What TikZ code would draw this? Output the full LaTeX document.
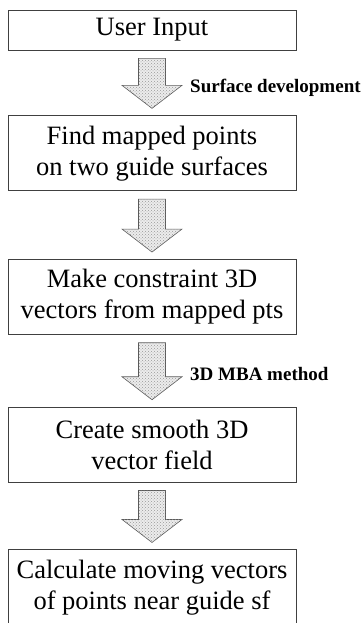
\documentclass[tikz,border=0pt]{standalone}
\usepackage{fontspec}
\setmainfont{Liberation Serif}
\usetikzlibrary{positioning,calc,patterns}

\tikzset{
  stepbox/.style={draw=black!75, line width=0.7pt, minimum width=288pt, minimum height=75pt,
    align=center, inner sep=2pt, font=\fontsize{26.5}{31}\selectfont},
  arrowfill/.style={draw=black!65, line width=0.6pt, fill=gray!15,
    postaction={pattern=crosshatch dots, pattern color=gray!80}},
  note/.style={font=\bfseries\fontsize{19}{22}\selectfont, inner sep=0pt, anchor=west}
}

% block arrow from the bottom of #1 to the top of #2
\newcommand{\blockarrow}[2]{%
  \draw[arrowfill] let \p1=($(#1.south)+(0,-8pt)$), \p2=($(#2.north)+(0,7pt)$) in
    (\x1-13.5pt,\y1) -- (\x1+13.5pt,\y1) -- (\x1+13.5pt,\y2+23pt) -- (\x1+30pt,\y2+23pt)
    -- (\x1,\y2) -- (\x1-30pt,\y2+23pt) -- (\x1-13.5pt,\y2+23pt) -- cycle;
}

\begin{document}
\begin{tikzpicture}
  \useasboundingbox (0,0) rectangle (363pt,-623pt);

  \node[stepbox, minimum height=40pt] (input) at (152pt,-30pt) {User Input};
  \node[stepbox, below=65pt of input] (mapped) {Find mapped points\\on two guide surfaces};
  \node[stepbox, below=68pt of mapped] (constr) {Make constraint 3D\\vectors from mapped pts};
  \node[stepbox, below=72pt of constr] (field) {Create smooth 3D\\vector field};
  \node[stepbox, below=67pt of field] (moving) {Calculate moving vectors\\of points near guide sf};

  \blockarrow{input}{mapped}
  \blockarrow{mapped}{constr}
  \blockarrow{constr}{field}
  \blockarrow{field}{moving}

  \node[note] (surfdev) at ($(input.south)+(38pt,-37pt)$) {Surface development};
  \node[note] (mba) at ($(constr.south)+(38pt,-39pt)$) {3D MBA method};
\end{tikzpicture}
\end{document}
